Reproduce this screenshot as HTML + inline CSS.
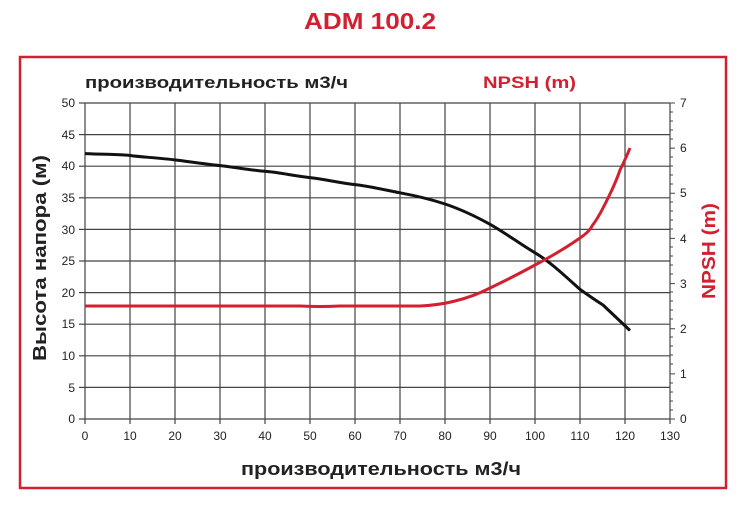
<!DOCTYPE html>
<html><head><meta charset="utf-8"><style>body{margin:0;background:#fff}</style></head><body>
<svg width="740" height="500" xmlns="http://www.w3.org/2000/svg" font-family="Liberation Sans, sans-serif">
<text x="370" y="29" text-anchor="middle" font-size="23" font-weight="bold" fill="#d32030" textLength="132" lengthAdjust="spacingAndGlyphs">ADM 100.2</text>
<rect x="20" y="57" width="706" height="431" fill="none" stroke="#d32030" stroke-width="2.5"/>
<g stroke="#444" stroke-width="1.2">
<line x1="85" y1="103" x2="670" y2="103"/><line x1="85" y1="134.6" x2="670" y2="134.6"/><line x1="85" y1="166.2" x2="670" y2="166.2"/><line x1="85" y1="197.8" x2="670" y2="197.8"/><line x1="85" y1="229.4" x2="670" y2="229.4"/><line x1="85" y1="261" x2="670" y2="261"/><line x1="85" y1="292.6" x2="670" y2="292.6"/><line x1="85" y1="324.2" x2="670" y2="324.2"/><line x1="85" y1="355.8" x2="670" y2="355.8"/><line x1="85" y1="387.4" x2="670" y2="387.4"/><line x1="85" y1="419" x2="670" y2="419"/>
<line x1="85" y1="103" x2="85" y2="424"/><line x1="130" y1="103" x2="130" y2="424"/><line x1="175" y1="103" x2="175" y2="424"/><line x1="220" y1="103" x2="220" y2="424"/><line x1="265" y1="103" x2="265" y2="424"/><line x1="310" y1="103" x2="310" y2="424"/><line x1="355" y1="103" x2="355" y2="424"/><line x1="400" y1="103" x2="400" y2="424"/><line x1="445" y1="103" x2="445" y2="424"/><line x1="490" y1="103" x2="490" y2="424"/><line x1="535" y1="103" x2="535" y2="424"/><line x1="580" y1="103" x2="580" y2="424"/><line x1="625" y1="103" x2="625" y2="424"/><line x1="670" y1="103" x2="670" y2="424"/>
<line x1="79" y1="103" x2="85" y2="103"/><line x1="79" y1="134.6" x2="85" y2="134.6"/><line x1="79" y1="166.2" x2="85" y2="166.2"/><line x1="79" y1="197.8" x2="85" y2="197.8"/><line x1="79" y1="229.4" x2="85" y2="229.4"/><line x1="79" y1="261" x2="85" y2="261"/><line x1="79" y1="292.6" x2="85" y2="292.6"/><line x1="79" y1="324.2" x2="85" y2="324.2"/><line x1="79" y1="355.8" x2="85" y2="355.8"/><line x1="79" y1="387.4" x2="85" y2="387.4"/><line x1="79" y1="419" x2="85" y2="419"/>
</g>
<g font-size="12" fill="#222" text-anchor="end">
<text x="75" y="107">50</text><text x="75" y="139">45</text><text x="75" y="170">40</text><text x="75" y="202">35</text><text x="75" y="234">30</text><text x="75" y="265">25</text><text x="75" y="297">20</text><text x="75" y="328">15</text><text x="75" y="360">10</text><text x="75" y="392">5</text><text x="75" y="423">0</text>
</g>
<g font-size="12" fill="#222">
<text x="680" y="107">7</text><text x="680" y="152">6</text><text x="680" y="197">5</text><text x="680" y="243">4</text><text x="680" y="288">3</text><text x="680" y="333">2</text><text x="680" y="378">1</text><text x="680" y="423">0</text>
</g>
<g font-size="12" fill="#222" text-anchor="middle">
<text x="85" y="440">0</text><text x="130" y="440">10</text><text x="175" y="440">20</text><text x="220" y="440">30</text><text x="265" y="440">40</text><text x="310" y="440">50</text><text x="355" y="440">60</text><text x="400" y="440">70</text><text x="445" y="440">80</text><text x="490" y="440">90</text><text x="535" y="440">100</text><text x="580" y="440">110</text><text x="625" y="440">120</text><text x="670" y="440">130</text>
</g>
<text x="85" y="88" font-size="17" font-weight="bold" fill="#222" textLength="263" lengthAdjust="spacingAndGlyphs">производительность м3/ч</text>
<text x="483" y="88" font-size="17" font-weight="bold" fill="#d32030" textLength="93" lengthAdjust="spacingAndGlyphs">NPSH (m)</text>
<text x="241" y="475" font-size="18" font-weight="bold" fill="#222" textLength="280" lengthAdjust="spacingAndGlyphs">производительность м3/ч</text>
<text transform="translate(46,258) rotate(-90)" text-anchor="middle" font-size="18" font-weight="bold" fill="#222" textLength="206" lengthAdjust="spacingAndGlyphs">Высота напора (м)</text>
<text transform="translate(715,251) rotate(-90)" text-anchor="middle" font-size="18" font-weight="bold" fill="#d32030" textLength="96" lengthAdjust="spacingAndGlyphs">NPSH (m)</text>
<path d="M85,153.6 C110,154.5 125,154.5 130,155.5 S160,158 175,159.9 S205,164 220,165.6 S250,170 265,171.3 S295,176 310,177.6 S340,183 355,184.6 S385,190 400,192.8 S430,199 445,204 S475,216 490,224.3 S520,244 535,252.8 S565,276 580,289.4 Q595,300 603,305 L630,330.5" fill="none" stroke="#111" stroke-width="3"/>
<path d="M85,306 L300,306 Q320,307 340,306 L420,306 Q440,305 455,301 Q475,296 490,288 Q515,276 535,265 Q560,252 580,238 Q590,231 592,226 Q598,218 603,208 Q615,185 620,170 Q626,158 630,148" fill="none" stroke="#d32030" stroke-width="3"/>
<g stroke="#444" stroke-width="1">
<path d="M670,103v316 M670,103h5 M670,148.1h5 M670,193.3h5 M670,238.4h5 M670,283.6h5 M670,328.7h5 M670,373.9h5 M670,419h5 M670,112h3 M670,121h3 M670,130h3 M670,139h3 M670,157h3 M670,166h3 M670,175h3 M670,184h3 M670,202h3 M670,211h3 M670,220h3 M670,229h3 M670,247h3 M670,256h3 M670,265h3 M670,274h3 M670,292h3 M670,301h3 M670,310h3 M670,319h3 M670,337h3 M670,346h3 M670,355h3 M670,364h3 M670,383h3 M670,392h3 M670,401h3 M670,410h3"/>
</g>
</svg>
</body></html>
